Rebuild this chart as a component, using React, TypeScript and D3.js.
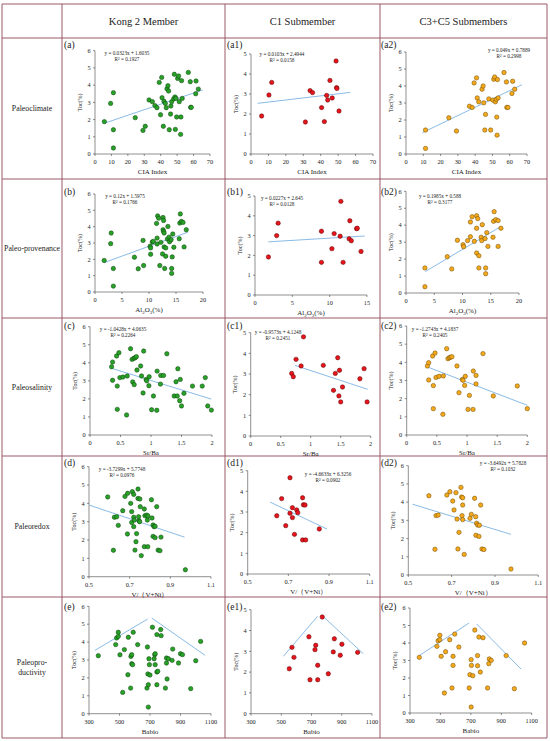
import React from "react";
import * as d3 from "d3";

// ---------------- DATA ----------------
const columnTitles = ["Kong 2 Member", "C1 Submember", "C3+C5 Submembers"];
const rowTitles = [["Paleoclimate"], ["Paleo-provenance"], ["Paleosalinity"], ["Paleoredox"], ["Paleopro-", "ductivity"]];
const panelIds = [["(a)", "(a1)", "(a2)"], ["(b)", "(b1)", "(b2)"], ["(c)", "(c1)", "(c2)"], ["(d)", "(d1)", "(d2)"], ["(e)", "(e1)", "(e2)"]];

// Palaeoclimate: CIA index vs TOC
const ciaKong = [[5.7,1.88],[9.5,2.94],[11.2,3.56],[11.2,1.41],[11.2,0.35],[24.5,2.11],[29.2,1.37],[30.6,1.61],[32.9,3.14],[34.9,3.04],[36.5,2.81],[37.7,2.69],[39.1,4.16],[39.9,2.28],[40.6,4.45],[40.8,3.27],[41.6,1.61],[42.0,3.06],[42.8,2.94],[43.4,2.69],[43.8,3.79],[44.4,3.97],[44.8,3.66],[45.2,1.41],[46.0,2.32],[46.2,2.79],[46.7,3.04],[47.9,3.21],[48.3,4.63],[48.7,3.31],[48.9,1.43],[49.3,3.23],[49.7,2.15],[50.3,4.39],[50.9,4.53],[51.3,3.04],[52.3,2.15],[52.1,1.14],[52.7,4.26],[53.1,3.23],[56.8,4.74],[58.0,4.2],[58.2,2.71],[58.6,2.71],[61.3,3.5],[61.5,4.24],[62.9,3.77]];
const ciaC1 = [[6.1,1.9],[10.3,2.95],[11.9,3.58],[31.2,1.6],[33.9,3.17],[35.3,3.07],[40.5,2.32],[42.1,1.62],[43.4,2.93],[44.0,2.7],[45.3,3.68],[46.6,2.8],[49.1,3.32],[49.3,3.28],[48.8,4.65],[50.5,2.15]];
const ciaC35 = [[11.3,1.41],[11.3,0.33],[24.8,2.13],[29.2,1.35],[36.7,2.81],[38.3,2.74],[39.4,4.18],[40.8,4.48],[41.2,3.3],[42.1,3.07],[44.0,3.81],[44.6,4.0],[45.0,3.01],[46.0,2.33],[45.6,1.41],[47.9,3.24],[49.0,1.41],[50.2,3.17],[50.8,4.4],[51.3,4.53],[51.7,3.07],[52.3,3.22],[52.5,2.17],[52.7,1.11],[52.9,4.38],[53.3,3.3],[56.7,4.79],[58.1,4.24],[58.3,2.74],[59.0,2.74],[61.3,3.56],[61.7,4.28],[62.9,3.81]];

// Palaeo-provenance: Al2O3 vs TOC
const alKong = [[1.7,1.93],[2.9,2.96],[3.0,3.61],[3.4,1.44],[3.4,0.36],[7.3,2.13],[8.0,1.42],[8.9,3.16],[9.0,1.62],[10.2,2.8],[10.3,2.7],[10.3,2.31],[10.6,3.06],[10.8,3.1],[11.4,4.2],[11.5,3.3],[11.5,2.94],[11.6,4.66],[11.8,4.52],[12.0,1.62],[12.2,3.04],[12.5,2.33],[12.6,3.81],[12.6,4.56],[12.7,4.38],[12.7,3.71],[12.8,3.61],[12.8,2.76],[12.9,1.44],[13.1,2.7],[13.1,2.19],[13.4,3.24],[13.5,4.01],[13.7,3.36],[13.8,3.08],[14.1,3.2],[14.2,1.44],[14.2,1.14],[14.3,2.15],[14.4,3.55],[14.6,2.74],[15.6,3.26],[15.7,4.22],[15.8,4.78],[16.0,4.32],[16.3,4.26],[16.5,2.76],[16.9,3.81]];
const alC1 = [[1.8,1.92],[2.9,3.0],[3.1,3.63],[11.5,4.73],[12.7,3.75],[13.6,3.35],[13.7,3.37],[8.9,3.22],[10.6,3.1],[11.4,2.97],[12.6,2.84],[12.9,2.74],[10.3,2.34],[14.2,2.2],[8.9,1.65],[11.8,1.65]];
const alC35 = [[3.35,1.48],[3.35,0.37],[7.3,2.14],[8.1,1.42],[9.1,3.11],[10.1,2.85],[10.2,2.73],[10.9,3.09],[11.4,3.32],[11.4,4.19],[11.7,4.5],[12.1,3.05],[12.5,4.56],[12.5,3.82],[12.5,2.36],[12.7,4.39],[12.9,1.48],[12.9,2.2],[13.3,3.29],[13.5,4.03],[13.4,3.09],[14.0,3.21],[14.1,1.48],[14.1,1.14],[14.3,3.56],[14.5,2.75],[15.4,3.29],[15.5,4.23],[15.6,4.8],[15.9,4.33],[16.3,4.27],[16.3,2.75],[16.8,3.82]];

// Palaeosalinity: Sr/Ba vs TOC
const srKong = [[0.354,3.78],[0.37,4.04],[0.37,3.03],[0.436,4.38],[0.447,2.71],[0.447,1.42],[0.474,4.56],[0.49,3.18],[0.54,3.21],[0.6,1.11],[0.61,3.27],[0.665,4.78],[0.69,4.19],[0.7,2.94],[0.72,4.25],[0.725,2.79],[0.74,4.28],[0.76,4.34],[0.77,3.6],[0.83,3.82],[0.845,3.27],[0.87,2.33],[0.88,4.65],[0.92,3.08],[0.93,3.0],[0.965,2.73],[0.97,3.23],[1.01,1.4],[1.04,2.16],[1.1,3.54],[1.095,1.37],[1.155,2.82],[1.16,3.3],[1.205,3.3],[1.26,4.5],[1.38,2.16],[1.41,2.95],[1.43,2.16],[1.44,3.67],[1.47,1.9],[1.48,3.08],[1.5,1.61],[1.54,2.31],[1.68,2.71],[1.84,2.71],[1.89,3.18],[1.93,1.61],[1.99,1.38]];
const srC1 = [[0.683,3.03],[0.71,2.87],[0.756,3.71],[0.84,3.39],[0.88,4.8],[1.21,3.42],[1.41,3.03],[1.45,3.79],[1.48,3.18],[1.38,2.21],[1.47,1.94],[1.53,2.37],[1.5,1.65],[1.82,2.77],[1.89,3.26],[1.94,1.65]];
const srC35 = [[0.343,3.8],[0.365,3.98],[0.365,3.03],[0.43,4.35],[0.442,2.72],[0.442,1.45],[0.47,4.51],[0.486,3.17],[0.536,3.23],[0.6,1.14],[0.608,3.25],[0.663,4.75],[0.685,4.2],[0.707,4.26],[0.73,4.28],[0.75,4.31],[0.834,3.8],[0.867,2.33],[0.923,3.06],[0.934,3.01],[0.961,2.73],[0.972,3.23],[1.017,1.41],[1.04,2.18],[1.1,1.41],[1.105,3.52],[1.15,3.28],[1.15,2.81],[1.265,4.48],[1.436,2.15],[1.834,2.7],[2.0,1.45]];

// Palaeoredox: V/(V+Ni) vs TOC
const vKong = [[0.592,4.35],[0.62,1.44],[0.625,3.24],[0.636,3.27],[0.644,2.8],[0.666,3.6],[0.677,4.38],[0.689,2.33],[0.69,4.55],[0.705,4.0],[0.71,2.96],[0.71,3.55],[0.713,4.64],[0.72,4.49],[0.72,2.73],[0.72,3.24],[0.723,3.09],[0.726,1.45],[0.731,1.91],[0.734,2.35],[0.741,4.78],[0.741,4.27],[0.744,3.27],[0.746,3.05],[0.749,3.0],[0.75,4.24],[0.752,3.82],[0.757,1.15],[0.772,3.69],[0.772,1.64],[0.775,3.33],[0.784,3.36],[0.787,3.09],[0.79,3.31],[0.789,1.64],[0.807,4.2],[0.81,3.2],[0.815,2.82],[0.815,2.2],[0.82,2.73],[0.825,2.13],[0.825,2.75],[0.833,3.82],[0.84,1.45],[0.849,1.42],[0.854,2.16],[0.974,0.38]];
const vC1 = [[0.643,2.82],[0.667,3.65],[0.687,2.34],[0.708,4.66],[0.708,2.94],[0.72,3.21],[0.72,2.73],[0.73,1.92],[0.741,3.1],[0.746,2.97],[0.77,3.69],[0.774,3.35],[0.782,3.34],[0.77,1.65],[0.785,1.65],[0.852,2.18]];
const vC35 = [[0.595,4.35],[0.623,1.41],[0.628,3.26],[0.638,3.29],[0.678,4.39],[0.692,4.57],[0.705,4.06],[0.711,3.57],[0.72,4.52],[0.725,3.07],[0.729,1.43],[0.734,2.34],[0.743,4.81],[0.746,4.28],[0.751,4.24],[0.748,3.26],[0.751,3.84],[0.751,3.04],[0.758,1.13],[0.785,3.11],[0.791,3.33],[0.806,4.21],[0.811,3.2],[0.815,2.84],[0.82,2.74],[0.828,2.73],[0.812,2.18],[0.826,2.12],[0.834,3.84],[0.84,1.43],[0.849,1.4],[0.974,0.33]];

// Palaeoproductivity: Babio vs TOC
const baKong = [[361,3.24],[475,3.86],[481,4.23],[492,4.32],[492,4.55],[503,3.29],[521,1.19],[532,3.58],[555,2.18],[558,4.27],[573,1.43],[575,3.2],[580,3.3],[580,2.79],[586,2.74],[590,4.55],[619,3.86],[680,1.43],[683,3.73],[686,2.22],[689,0.37],[689,1.62],[693,3.07],[696,2.74],[700,2.16],[716,4.83],[727,3.07],[731,3.3],[734,3.35],[734,2.74],[745,2.33],[751,2.37],[745,1.62],[745,4.42],[770,4.7],[773,4.36],[801,1.43],[808,2.83],[808,3.11],[812,1.94],[821,3.07],[845,2.98],[849,3.61],[887,2.83],[900,3.35],[913,3.3],[967,1.4],[1000,2.96],[1032,4.04]];
const baC1 = [[571,3.19],[584,2.71],[553,2.16],[683,3.7],[690,1.63],[771,4.65],[728,3.29],[723,3.08],[741,2.33],[741,1.63],[851,3.6],[844,2.97],[890,2.81],[901,3.34],[811,1.92],[1005,2.95]];
const baC35 = [[361,3.18],[477,3.81],[485,4.13],[496,4.19],[496,4.44],[505,3.24],[526,1.14],[534,3.5],[561,4.19],[576,1.43],[583,3.24],[583,2.72],[594,4.51],[621,3.77],[689,1.43],[694,2.19],[702,0.34],[702,3.05],[704,2.72],[713,2.13],[726,4.74],[744,3.28],[744,2.7],[753,4.34],[762,2.34],[780,4.3],[810,1.43],[818,2.82],[821,3.09],[834,3.01],[932,3.28],[986,1.39],[1053,4.0]];

// Linear fits: [slope, intercept, R², xStart, xEnd]
const fitsA = [[0.0323, 1.6035, "0.1927", 5.7, 65.5], [0.0103, 2.4944, "0.0158", 3.8, 57], [0.049, 0.7889, "0.2998", 9.5, 67]];
const fitsB = [[0.12, 1.5975, "0.1766", 1.7, 17.2], [0.0227, 2.645, "0.0128", 1.8, 14.7], [0.1985, 0.588, "0.3177", 3.4, 16.8]];
const fitsC = [[-1.0428, 4.0635, "0.2264", 0.33, 1.99], [-0.9573, 4.1248, "0.2451", 0.74, 1.95], [-1.2743, 4.1837, "0.2405", 0.32, 2.0]];
const fitsD = [[-3.7299, 5.7748, "0.0976", 0.5, 0.97], [-4.6633, 6.3256, "0.0902", 0.61, 0.89], [-3.6492, 5.7828, "0.1032", 0.52, 0.974]];
// Productivity envelope lines: [left segment, right segment]
const envelopes = [
  [[[339, 3.54], [685, 5.29]], [[711, 5.35], [1061, 3.26]]],
  [[[514, 2.76], [740, 4.68]], [[785, 4.62], [1043, 2.88]]],
  [[[361, 3.28], [688, 5.14]], [[738, 5.09], [1030, 2.51]]],
];

const rowData = [[ciaKong, ciaC1, ciaC35], [alKong, alC1, alC35], [srKong, srC1, srC35], [vKong, vC1, vC35], [baKong, baC1, baC35]];
const rowFits = [fitsA, fitsB, fitsC, fitsD, null];
const rowXDomain = [[0, 70], [0, 20], [0, 2], [0.5, 1.1], [300, 1100]];
const rowXTicks = [[0, 10, 20, 30, 40, 50, 60, 70], [0, 5, 10, 15, 20], [0, 0.5, 1, 1.5, 2], [0.5, 0.7, 0.9, 1.1], [300, 500, 700, 900, 1100]];
const c1XDomain = [[0, 70], [0, 15], [0, 2], [0.5, 1.1], [300, 1100]];
const c1XTicks = [[0, 10, 20, 30, 40, 50, 60, 70], [0, 5, 10, 15], [0, 0.5, 1, 1.5, 2], [0.5, 0.7, 0.9, 1.1], [300, 500, 700, 900, 1100]];
const yMaxByCol = [6, 5, 6];

// ---------------- LAYOUT ----------------
const colX = [2, 62, 225, 380, 547];
const rowY = [4, 38, 179, 318, 456, 597, 738];
const boxes = [
  [{ x0: 95, x1: 210, y0: 154, yT: 50.7 }, { x0: 251, x1: 373, y0: 154, yT: 54 }, { x0: 406, x1: 527, y0: 154, yT: 52 }],
  [{ x0: 95, x1: 203, y0: 292, yT: 194 }, { x0: 255, x1: 367, y0: 295, yT: 196 }, { x0: 406, x1: 519, y0: 293, yT: 191.3 }],
  [{ x0: 90, x1: 212, y0: 435, yT: 326.7 }, { x0: 250.7, x1: 370.7, y0: 436, yT: 332.7 }, { x0: 406.7, x1: 527.3, y0: 435, yT: 326 }],
  [{ x0: 89, x1: 211, y0: 576.7, yT: 466.7 }, { x0: 247.7, x1: 369.7, y0: 574, yT: 470.7 }, { x0: 408.3, x1: 538.3, y0: 575, yT: 465.7 }],
  [{ x0: 89, x1: 211, y0: 713.7, yT: 606.3 }, { x0: 251, x1: 372, y0: 713.7, yT: 609.7 }, { x0: 410, x1: 531.7, y0: 713, yT: 608 }],
];
const eqPos = [
  [[127, 54.5], [282, 55.5], [509, 51.5]],
  [[125, 198], [282, 200], [440, 197.5]],
  [[123, 330.5], [278, 333.5], [435, 330.5]],
  [[122, 470.5], [328, 475.5], [503, 464.5]],
];
const idBaseline = [48, 194.5, 328.5, 465.5, 609.5];
const idX = [64, 227, 381];

const colors = [
  { fill: "#27a227", stroke: "#0d3f0d" },
  { fill: "#e8141c", stroke: "#5a0505" },
  { fill: "#f5a81c", stroke: "#6b4a00" },
];
const serif = "'Liberation Serif', 'Times New Roman', serif";
const lineBlue = "#7db3e3";
const border = "#9a5868";
const fmt = d3.format("~g");

function XTitle({ row, x, y }) {
  if (row === 1) {
    return (
      <text x={x} y={y} textAnchor="middle" fontSize={7} fontFamily={serif} fill="#222">
        Al<tspan fontSize={5} dy={1.5}>2</tspan><tspan dy={-1.5}>O</tspan><tspan fontSize={5} dy={1.5}>3</tspan><tspan dy={-1.5}>(%)</tspan>
      </text>
    );
  }
  const t = ["CIA Index", "", "Sr/Ba", "V/（V+Ni）", "Babio"][row];
  return <text x={x} y={y} textAnchor="middle" fontSize={7} fontFamily={serif} fill="#222">{t}</text>;
}

function Panel({ row, col }) {
  const box = boxes[row][col];
  const dom = col === 1 ? c1XDomain[row] : rowXDomain[row];
  const xt = col === 1 ? c1XTicks[row] : rowXTicks[row];
  const yMax = yMaxByCol[col];
  const x = d3.scaleLinear().domain(dom).range([box.x0, box.x1]);
  const y = d3.scaleLinear().domain([0, yMax]).range([box.y0, box.yT]);
  const yt = d3.range(0, yMax + 1);
  const line = d3.line().x((d) => x(d[0])).y((d) => y(d[1]));
  const pts = rowData[row][col];
  const c = colors[col];
  const fits = rowFits[row];
  let fitEls = null;
  if (fits) {
    const [m, b, r2, xa, xb] = fits[col];
    const seg = [[xa, m * xa + b], [xb, m * xb + b]];
    const [ex, ey] = eqPos[row][col];
    const sign = b >= 0 ? "+" : "-";
    fitEls = (
      <g>
        <path d={line(seg)} stroke={lineBlue} strokeWidth={0.9} fill="none" />
        <text x={ex} y={ey} textAnchor="middle" fontSize={5.2} fontFamily={serif} fill="#222">
          {`y = ${m}x ${sign} ${Math.abs(b)}`}
        </text>
        <text x={ex} y={ey + 6} textAnchor="middle" fontSize={5.2} fontFamily={serif} fill="#222">
          R² = {r2}
        </text>
      </g>
    );
  } else {
    fitEls = (
      <g>
        {envelopes[col].map((seg, i) => (
          <path key={i} d={line(seg)} stroke={lineBlue} strokeWidth={0.9} fill="none" />
        ))}
      </g>
    );
  }
  const midY = (box.y0 + box.yT) / 2;
  return (
    <g>
      <line x1={box.x0} x2={box.x0} y1={box.y0} y2={box.yT} stroke="#444" strokeWidth={0.6} />
      <line x1={box.x0} x2={box.x1} y1={box.y0} y2={box.y0} stroke="#444" strokeWidth={0.6} />
      {yt.map((v) => (
        <g key={"y" + v}>
          <line x1={box.x0 - 2} x2={box.x0} y1={y(v)} y2={y(v)} stroke="#444" strokeWidth={0.6} />
          <text x={box.x0 - 6} y={y(v) + 2.2} textAnchor="middle" fontSize={6.3} fontFamily={serif} fill="#222">{v}</text>
        </g>
      ))}
      {xt.map((v) => (
        <g key={"x" + v}>
          <line x1={x(v)} x2={x(v)} y1={box.y0} y2={box.y0 + 2} stroke="#444" strokeWidth={0.6} />
          <text x={x(v)} y={box.y0 + 10} textAnchor="middle" fontSize={6.3} fontFamily={serif} fill="#222">{fmt(v)}</text>
        </g>
      ))}
      <text transform={`translate(${box.x0 - 13.5},${midY}) rotate(-90)`} textAnchor="middle" fontSize={6} fontFamily={serif} fill="#222">Toc(%)</text>
      <XTitle row={row} x={(box.x0 + box.x1) / 2} y={box.y0 + 20} />
      {fitEls}
      {pts.map((p, i) => (
        <circle key={i} cx={x(p[0])} cy={y(p[1])} r={2.2} fill={c.fill} stroke={c.stroke} strokeWidth={0.5} />
      ))}
      <text x={idX[col]} y={idBaseline[row]} fontSize={9.5} fontFamily={serif} fill="#222">{panelIds[row][col]}</text>
    </g>
  );
}

export default function App() {
  return (
    <svg width={550} height={741} style={{ position: "absolute", left: 0, top: 0, background: "#fff" }}>
      <rect x={0} y={0} width={550} height={741} fill="#fff" />
      {colX.map((cx, i) => (
        <line key={"c" + i} x1={cx} x2={cx} y1={rowY[0]} y2={rowY[rowY.length - 1]} stroke={border} strokeWidth={1} />
      ))}
      {rowY.map((ry, i) => (
        <line key={"r" + i} x1={colX[0]} x2={colX[colX.length - 1]} y1={ry} y2={ry} stroke={border} strokeWidth={1} />
      ))}
      {columnTitles.map((t, i) => (
        <text key={t} x={(colX[i + 1] + colX[i + 2]) / 2} y={24.5} textAnchor="middle" fontSize={10.5} fontFamily={serif} fill="#222">{t}</text>
      ))}
      {rowTitles.map((lines, r) => {
        const cy = (rowY[r + 1] + rowY[r + 2]) / 2;
        return (
          <text key={r} x={(colX[0] + colX[1]) / 2} y={cy + 2.5 - (lines.length - 1) * 5} textAnchor="middle" fontSize={7.8} fontFamily={serif} fill="#222">
            {lines.map((l, j) => (
              <tspan key={j} x={(colX[0] + colX[1]) / 2} dy={j === 0 ? 0 : 10}>{l}</tspan>
            ))}
          </text>
        );
      })}
      {[0, 1, 2, 3, 4].map((r) => [0, 1, 2].map((c) => <Panel key={r + "-" + c} row={r} col={c} />))}
    </svg>
  );
}
